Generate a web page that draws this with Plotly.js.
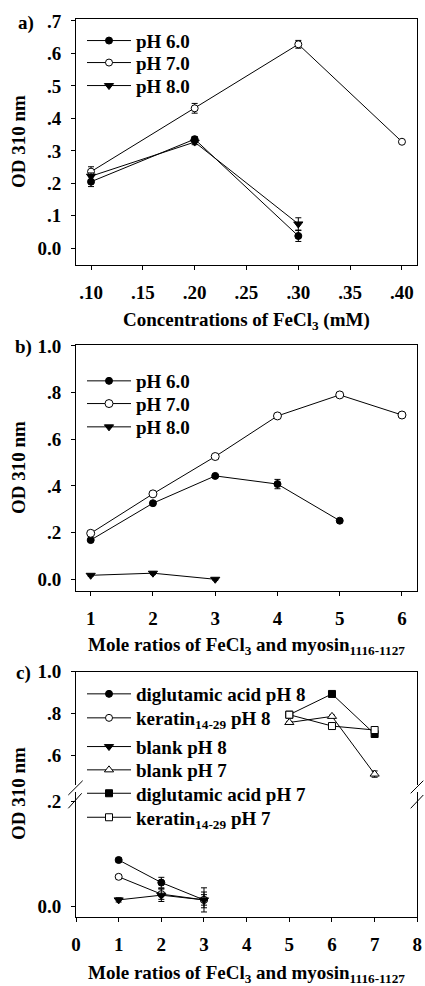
<!DOCTYPE html>
<html>
<head>
<meta charset="utf-8">
<script src="https://cdn.plot.ly/plotly-3.0.1.min.js"></script>
<style>html,body{margin:0;padding:0;background:#fff;}#chart{width:425px;height:986px;}</style>
</head>
<body>
<div id="chart"></div>
<script>
// ---------- Data ----------
// Panel a: FeCl3 concentration (mM)
const concA = [0.10, 0.20, 0.30];
const concA7 = [0.10, 0.20, 0.30, 0.40];
const aPH6 = [0.205, 0.336, 0.038];
const aPH6err = [0.015, 0.008, 0.017];
const aPH7 = [0.236, 0.431, 0.628, 0.328];
const aPH7err = [0.015, 0.015, 0.012, 0.005];
const aPH8 = [0.222, 0.327, 0.075];
const aPH8err = [0.010, 0.008, 0.019];
const aXTicks = [0.10, 0.15, 0.20, 0.25, 0.30, 0.35, 0.40];
const aXTickText = ['.10', '.15', '.20', '.25', '.30', '.35', '.40'];
const aYTicks = [0, 0.1, 0.2, 0.3, 0.4, 0.5, 0.6, 0.7];
const aYTickText = ['0.0', '.1', '.2', '.3', '.4', '.5', '.6', '.7'];

// Panel b: mole ratios
const ratioB6 = [1, 2, 3, 4, 5];
const ratioB7 = [1, 2, 3, 4, 5, 6];
const ratioB8 = [1, 2, 3];
const bPH6 = [0.168, 0.326, 0.443, 0.408, 0.251];
const bPH6err = [0.005, 0.006, 0.006, 0.020, 0.005];
const bPH7 = [0.197, 0.366, 0.526, 0.700, 0.790, 0.704];
const bPH7err = [0.005, 0.006, 0.006, 0.010, 0.005, 0.006];
const bPH8 = [0.017, 0.026, 0.000];
const bPH8err = [0.004, 0.006, 0.004];
const bXTicks = [1, 2, 3, 4, 5, 6];
const bYTicks = [0, 0.2, 0.4, 0.6, 0.8, 1.0];
const bYTickText = ['0.0', '.2', '.4', '.6', '.8', '1.0'];

// Panel c
const ratioLow = [1, 2, 3];
const ratioHigh = [5, 6, 7];
const dgPH8 = [0.089, 0.046, 0.013];
const dgPH8err = [0.004, 0.010, 0.010];
const kerPH8 = [0.057, 0.024, 0.013];
const kerPH8err = [0.004, 0.010, 0.015];
const blankPH8 = [0.013, 0.022, 0.013];
const blankPH8err = [0.004, 0.012, 0.023];
const blankPH7 = [0.758, 0.787, 0.512];
const blankPH7err = [0.005, 0.006, 0.015];
const dgPH7 = [0.795, 0.894, 0.703];
const dgPH7err = [0.005, 0.005, 0.010];
const kerPH7 = [0.795, 0.741, 0.722];
const kerPH7err = [0.005, 0.005, 0.010];
const cXTicks = [0, 1, 2, 3, 4, 5, 6, 7, 8];
const cLowTicks = [0, 0.2];
const cLowTickText = ['0.0', '.2'];
const cHighTicks = [0.6, 0.8, 1.0];
const cHighTickText = ['.6', '.8', '1.0'];

// ---------- Helpers ----------
const W = 425, H = 986;
const px = x => x / W;
const py = y => 1 - y / H;
const FONT = 'Liberation Serif, Times New Roman, serif';

function tr(x, y, err, name, symbol, fill, xa, ya, legend, size) {
  return {
    type: 'scatter', mode: 'lines+markers', x: x, y: y, name: name,
    xaxis: xa, yaxis: ya, legend: legend,
    line: {color: '#000', width: 1},
    marker: {symbol: symbol, size: size || 7, color: fill, line: {color: '#000', width: 1}},
    error_y: {type: 'data', array: err, visible: true, color: '#000', thickness: 1, width: 3}
  };
}

const traces = [
  tr(concA, aPH6, aPH6err, 'pH 6.0', 'circle', '#000', 'x', 'y', 'legend'),
  tr(concA7, aPH7, aPH7err, 'pH 7.0', 'circle', '#fff', 'x', 'y', 'legend'),
  tr(concA, aPH8, aPH8err, 'pH 8.0', 'triangle-down', '#000', 'x', 'y', 'legend', 8),

  tr(ratioB6, bPH6, bPH6err, 'pH 6.0', 'circle', '#000', 'x2', 'y2', 'legend2'),
  tr(ratioB7, bPH7, bPH7err, 'pH 7.0', 'circle', '#fff', 'x2', 'y2', 'legend2', 8),
  tr(ratioB8, bPH8, bPH8err, 'pH 8.0', 'triangle-down', '#000', 'x2', 'y2', 'legend2', 8),

  tr(ratioLow, dgPH8, dgPH8err, 'diglutamic acid pH 8', 'circle', '#000', 'x3', 'y3', 'legend3'),
  tr(ratioLow, kerPH8, kerPH8err, 'keratin<sub>14-29</sub> pH 8', 'circle', '#fff', 'x3', 'y3', 'legend3'),
  tr(ratioLow, blankPH8, blankPH8err, 'blank pH 8', 'triangle-down', '#000', 'x3', 'y3', 'legend3', 8),
  tr(ratioHigh, blankPH7, blankPH7err, 'blank pH 7', 'triangle-up', '#fff', 'x4', 'y4', 'legend3', 8),
  tr(ratioHigh, dgPH7, dgPH7err, 'diglutamic acid pH 7', 'square', '#000', 'x4', 'y4', 'legend3'),
  tr(ratioHigh, kerPH7, kerPH7err, 'keratin<sub>14-29</sub> pH 7', 'square', '#fff', 'x4', 'y4', 'legend3')
];

const xDom = [px(76), px(417.3)];
const baseAx = {
  showline: true, linecolor: '#000', linewidth: 1, mirror: true,
  ticks: 'outside', ticklen: 4, tickwidth: 1, tickcolor: '#000',
  showgrid: false, zeroline: false, tickmode: 'array', fixedrange: true
};
const yStand = 6, xStand = 6;

const legendBase = {
  xanchor: 'left', yanchor: 'top', bgcolor: 'rgba(0,0,0,0)', borderwidth: 0,
  font: {family: FONT, size: 19, color: '#000', weight: 'bold'}, itemwidth: 44, traceorder: 'normal'
};

const layout = {
  width: W, height: H,
  margin: {l: 0, r: 0, t: 0, b: 0, pad: 0},
  paper_bgcolor: '#fff', plot_bgcolor: '#fff',
  font: {family: FONT, size: 19, color: '#000', weight: 'bold'},
  showlegend: true,
  xaxis: Object.assign({}, baseAx, {domain: xDom, anchor: 'y', range: [0.0855, 0.4148],
    tickvals: aXTicks, ticktext: aXTickText, ticklabelstandoff: xStand}),
  yaxis: Object.assign({}, baseAx, {domain: [py(265), py(19.3)], anchor: 'x', range: [-0.0514, 0.705],
    tickvals: aYTicks, ticktext: aYTickText, ticklabelstandoff: yStand}),
  xaxis2: Object.assign({}, baseAx, {domain: xDom, anchor: 'y2', range: [0.764, 6.246],
    tickvals: bXTicks, ticktext: bXTicks.map(String), ticklabelstandoff: xStand}),
  yaxis2: Object.assign({}, baseAx, {domain: [py(590.7), py(345)], anchor: 'x2', range: [-0.049, 1.004],
    tickvals: bYTicks, ticktext: bYTickText, ticklabelstandoff: yStand}),
  xaxis3: Object.assign({}, baseAx, {domain: xDom, anchor: 'y3', range: [0, 8], mirror: false,
    tickvals: cXTicks, ticktext: cXTicks.map(String), ticklabelstandoff: xStand}),
  yaxis3: Object.assign({}, baseAx, {domain: [py(916.7), py(792)], anchor: 'x3', range: [-0.019, 0.2185],
    tickvals: cLowTicks, ticktext: cLowTickText, ticklabelstandoff: yStand}),
  xaxis4: Object.assign({}, baseAx, {domain: xDom, anchor: 'y4', range: [0, 8], side: 'top', mirror: false,
    ticks: '', showticklabels: false, matches: 'x3'}),
  yaxis4: Object.assign({}, baseAx, {domain: [py(785), py(671.7)], anchor: 'x4', range: [0.46, 1.0],
    tickvals: cHighTicks, ticktext: cHighTickText, ticklabelstandoff: yStand}),
  legend: Object.assign({}, legendBase, {x: px(82), y: py(21.7)}),
  legend2: Object.assign({}, legendBase, {x: px(82), y: py(362)}),
  legend3: Object.assign({}, legendBase, {x: px(82), y: py(675)}),
  annotations: [
    {text: 'a)', x: px(16), y: py(23), xanchor: 'left', yanchor: 'middle'},
    {text: 'b)', x: px(13), y: py(346.7), xanchor: 'left', yanchor: 'middle'},
    {text: 'c)', x: px(14), y: py(673.3), xanchor: 'left', yanchor: 'middle'},
    {text: 'Concentrations of FeCl<sub>3</sub> (mM)', x: px(246.7), y: py(321), xanchor: 'center', yanchor: 'middle'},
    {text: 'Mole ratios of FeCl<sub>3</sub> and myosin<sub>1116-1127</sub>', x: px(246.7), y: py(646), xanchor: 'center', yanchor: 'middle'},
    {text: 'Mole ratios of FeCl<sub>3</sub> and myosin<sub>1116-1127</sub>', x: px(246.7), y: py(974), xanchor: 'center', yanchor: 'middle'},
    {text: 'OD 310 nm', textangle: -90, x: px(18), y: py(142), xanchor: 'center', yanchor: 'middle'},
    {text: 'OD 310 nm', textangle: -90, x: px(18), y: py(468), xanchor: 'center', yanchor: 'middle'},
    {text: 'OD 310 nm', textangle: -90, x: px(18), y: py(794), xanchor: 'center', yanchor: 'middle'}
  ].map(a => Object.assign({xref: 'paper', yref: 'paper', showarrow: false,
    font: {family: FONT, size: 19, color: '#000', weight: 'bold'}}, a)),
  shapes: [
    [68.3, 795, 82.7, 780.7], [68.3, 808.3, 81.7, 793.3],
    [410.7, 793.3, 423.3, 780.7], [410.7, 808.3, 423.3, 795]
  ].map(s => ({type: 'line', xref: 'paper', yref: 'paper',
    x0: px(s[0]), y0: py(s[1]), x1: px(s[2]), y1: py(s[3]), line: {color: '#000', width: 1}}))
};

// Legend row offsets (px) from the first row, as in the reference figure
const legendRows = {
  legend: [0, 22, 45],
  legend2: [0, 22.7, 46],
  legend3: [0, 24, 52.7, 76, 99.4, 123.4]
};

Plotly.newPlot('chart', traces, layout, {displayModeBar: false, staticPlot: true}).then(gd => {
  Object.keys(legendRows).forEach(id => {
    const lg = gd.querySelector('g.' + id);
    if (!lg) return;
    const items = lg.querySelectorAll('g.traces');
    let y0 = null;
    items.forEach((it, i) => {
      const t = it.getAttribute('transform') || '';
      const m = t.match(/translate\(\s*([-\d.e]+)[\s,]+([-\d.e]+)\s*\)/);
      if (!m) return;
      if (y0 === null) y0 = parseFloat(m[2]);
      const off = legendRows[id][i];
      if (off === undefined) return;
      it.setAttribute('transform', 'translate(' + m[1] + ',' + (y0 + off) + ')');
    });
  });
});
</script>
</body>
</html>
